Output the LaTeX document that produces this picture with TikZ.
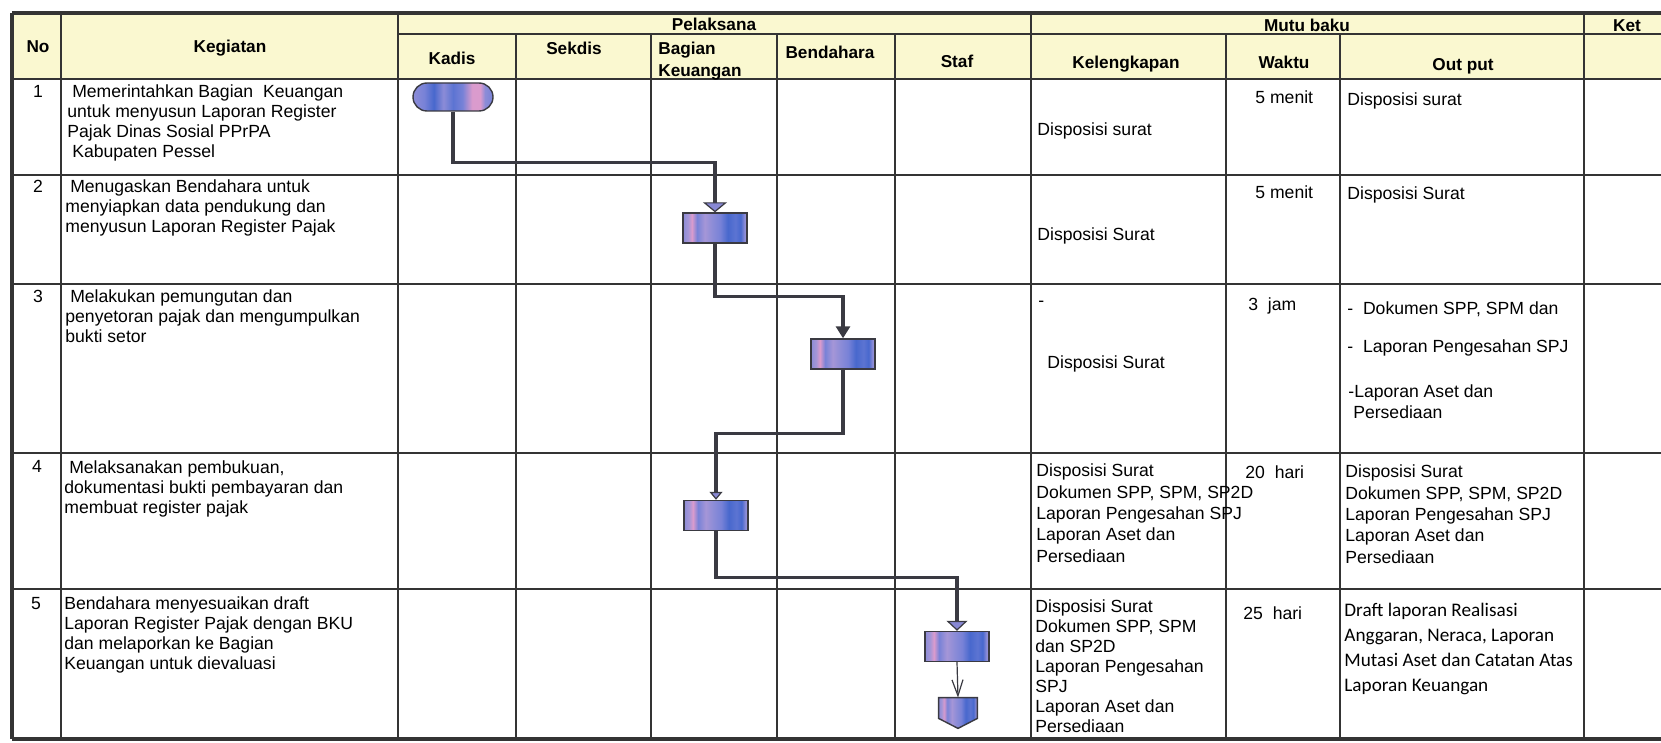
\documentclass[tikz,border=0pt]{standalone}
\usepackage{fontspec}
\setmainfont{Liberation Sans}
\newfontfamily\calibrifont{Carlito}
\usepackage{tikz}
\usetikzlibrary{positioning,arrows.meta}

\definecolor{gridline}{RGB}{52,52,52}
\definecolor{headfill}{RGB}{250,248,208}
\definecolor{flowline}{RGB}{58,58,66}
\definecolor{flowfill}{RGB}{136,136,212}
\definecolor{fla}{RGB}{140,140,215}
\definecolor{flb}{RGB}{120,130,215}
\definecolor{flc}{RGB}{165,150,215}
\definecolor{fpk}{RGB}{218,155,205}
\definecolor{fbl}{RGB}{72,104,205}
\definecolor{fbm}{RGB}{92,116,210}

\pgfdeclarehorizontalshading{boxstripes}{100bp}{color(0bp)=(fla); color(25bp)=(fla); color(29bp)=(flc); color(32bp)=(fpk); color(36bp)=(flb); color(42bp)=(flc); color(48bp)=(fla); color(54bp)=(flb); color(60bp)=(fbl); color(66bp)=(fbm); color(70bp)=(fbl); color(73bp)=(fla); color(75bp)=(flc); color(100bp)=(flc)}
\pgfdeclarehorizontalshading{termstripes}{100bp}{color(0bp)=(fla); color(25bp)=(fla); color(32bp)=(flb); color(38bp)=(fbl); color(44bp)=(fla); color(50bp)=(fbm); color(56bp)=(flb); color(62bp)=(fpk); color(67bp)=(fpk); color(70bp)=(fla); color(75bp)=(flb); color(100bp)=(flb)}

\newcommand{\bodyfont}{\fontsize{8.8}{10}\selectfont}
\newcommand{\headfont}{\fontsize{8.6}{11}\selectfont\bfseries}

\tikzset{
	cell/.style={draw=gridline, line width=1.3pt},
	outer/.style={draw=gridline, line width=1.8pt},
	txt/.style={inner sep=0pt, anchor=base west, align=left, font=\bodyfont},
	txtwide/.style={txt, font=\fontsize{8.8}{10.65}\selectfont},
	txtcal/.style={txt, font=\calibrifont\fontsize{9.6}{12.5}\selectfont},
	num/.style={inner sep=0pt, anchor=base, font=\bodyfont},
	hd/.style={inner sep=0pt, anchor=base, align=left, font=\headfont},
	procbox/.style={draw=flowline, line width=0.7pt, shade, shading=boxstripes, minimum width=32pt, minimum height=15pt, inner sep=0pt},
	termbox/.style={draw=flowline, line width=0.7pt, shade, shading=termstripes, rounded corners=7pt, minimum width=40pt, minimum height=14pt, inner sep=0pt},
	flow/.style={draw=flowline, line width=1.7pt},
}

\begin{document}
\begin{tikzpicture}[x=0.5pt, y=-0.5pt]
	\useasboundingbox (0,0) rectangle (1661,743);
	\fill[headfill] (12,13) rectangle (1661,79);

	\draw[outer] (12,13) -- (1661,13);
	\draw[cell] (398,34) -- (1661,34);
	\foreach \y in {79,175,284,453,589}
		\draw[cell] (12,\y) -- (1661,\y);
	\draw[outer] (12,739) -- (1661,739);
	\draw[outer] (12,13) -- (12,739);
	\foreach \x in {61,398,1031,1584}
		\draw[cell] (\x,13) -- (\x,739);
	\foreach \x in {516,651,777,895,1226,1340}
		\draw[cell] (\x,34) -- (\x,739);

	\node[hd] (hno) at (38,53) {No};
	\node[hd] (hkeg) at (230,53) {Kegiatan};
	\node[hd] (hpel) at (714,31) {Pelaksana};
	\node[hd] (hkad) at (452,65) {Kadis};
	\node[hd] (hsek) at (574,55) {Sekdis};
	\node[hd, anchor=base west] (hbag) at (658,77) {Bagian\\Keuangan};
	\node[hd] (hben) at (830,59) {Bendahara};
	\node[hd] (hsta) at (957,68) {Staf};
	\node[hd] (hmut) at (1307,32) {Mutu baku};
	\node[hd] (hket) at (1627,32) {Ket};
	\node[hd] (hkel) at (1126,69) {Kelengkapan};
	\node[hd] (hwak) at (1284,69) {Waktu};
	\node[hd] (hout) at (1463,71) {Out put};

	\node[num] (n1) at (38,98) {1};
	\node[num] (n2) at (38,193) {2};
	\node[num] (n3) at (38,303) {3};
	\node[num] (n4) at (37,473) {4};
	\node[num] (n5) at (36,609) {5};

	\node[txt] (k1) at (67,158) {~Memerintahkan Bagian~~Keuangan\\untuk menyusun Laporan Register\\Pajak Dinas Sosial PPrPA\\~Kabupaten Pessel};
	\node[txt] (k2) at (65,233) {~Menugaskan Bendahara untuk\\menyiapkan data pendukung dan\\menyusun Laporan Register Pajak};
	\node[txt] (k3) at (65,343) {~Melakukan pemungutan dan\\penyetoran pajak dan mengumpulkan\\bukti setor};
	\node[txt] (k4) at (64,513) {~Melaksanakan pembukuan,\\dokumentasi bukti pembayaran dan\\membuat register pajak};
	\node[txt] (k5) at (64,669) {Bendahara menyesuaikan draft\\Laporan Register Pajak dengan BKU\\dan melaporkan ke Bagian\\Keuangan untuk dievaluasi};

	\node[txt] (l1) at (1037,136) {Disposisi surat};
	\node[txt] (l2) at (1037,241) {Disposisi Surat};
	\node[txt] (l3a) at (1038,307) {-};
	\node[txt] (l3b) at (1047,369) {Disposisi Surat};
	\node[txtwide] (l4) at (1036,562) {Disposisi Surat\\Dokumen SPP, SPM, SP2D\\Laporan Pengesahan SPJ\\Laporan Aset dan\\Persediaan};
	\node[txt] (l5) at (1035,732) {Disposisi Surat\\Dokumen SPP, SPM\\dan SP2D\\Laporan Pengesahan\\SPJ\\Laporan Aset dan\\Persediaan};

	\node[txt] (w1) at (1255,104) {5 menit};
	\node[txt] (w2) at (1255,199) {5 menit};
	\node[txt] (w3) at (1248,311) {3~~jam};
	\node[txt] (w4) at (1245,478) {20~~hari};
	\node[txt] (w5) at (1243,619) {25~~hari};

	\node[txt] (o1) at (1347,106) {Disposisi surat};
	\node[txt] (o2) at (1347,200) {Disposisi Surat};
	\node[txt] (o3a) at (1347,315) {-~~Dokumen SPP, SPM dan};
	\node[txt] (o3b) at (1347,353) {-~~Laporan Pengesahan SPJ};
	\node[txt] (o3c) at (1348,418) {-Laporan Aset dan\\~Persediaan};
	\node[txtwide] (o4) at (1345,563) {Disposisi Surat\\Dokumen SPP, SPM, SP2D\\Laporan Pengesahan SPJ\\Laporan Aset dan\\Persediaan};
	\node[txtcal] (o5) at (1344,691) {Draft laporan Realisasi\\Anggaran, Neraca, Laporan\\Mutasi Aset dan Catatan Atas\\Laporan Keuangan};

	\node[termbox] (t1) at (453,97) {};
	\node[procbox] (b2) at (715,228) {};
	\node[procbox] (b3) at (843,354) {};
	\node[procbox] (b4) at (716,515.5) {};
	\node[procbox] (b5) at (957,646.5) {};
	\node[inner sep=0pt, minimum width=19pt, minimum height=15pt] (p6) at (958,713) {};
	\shadedraw[shading=boxstripes, draw=flowline, line width=0.7pt] (p6.north west) -- (p6.north east) -- ([yshift=5pt]p6.south east) -- (p6.south) -- ([yshift=5pt]p6.south west) -- cycle;

	\draw[flow, -{Triangle[length=5pt, width=12pt, fill=flowfill, line width=0.6pt]}] (t1.south) -- ++(0,51) -| (b2.north);
	\draw[flow, -{Triangle[length=6pt, width=7pt]}] (b2.south) -- ++(0,53) -| (b3.north);
	\draw[flow, -{Triangle[length=4pt, width=6.5pt, fill=flowfill, line width=0.6pt]}] (b3.south) -- ++(0,64) -| (b4.north);
	\draw[flow, -{Triangle[length=5pt, width=10.5pt, fill=flowfill, line width=0.6pt]}] (b4.south) -- ++(0,46) -| (b5.north);
	\draw[draw=flowline, line width=0.6pt, -{Straight Barb[length=8pt, width=5.5pt]}] (b5.south) -- (p6.north);
\end{tikzpicture}
\end{document}
